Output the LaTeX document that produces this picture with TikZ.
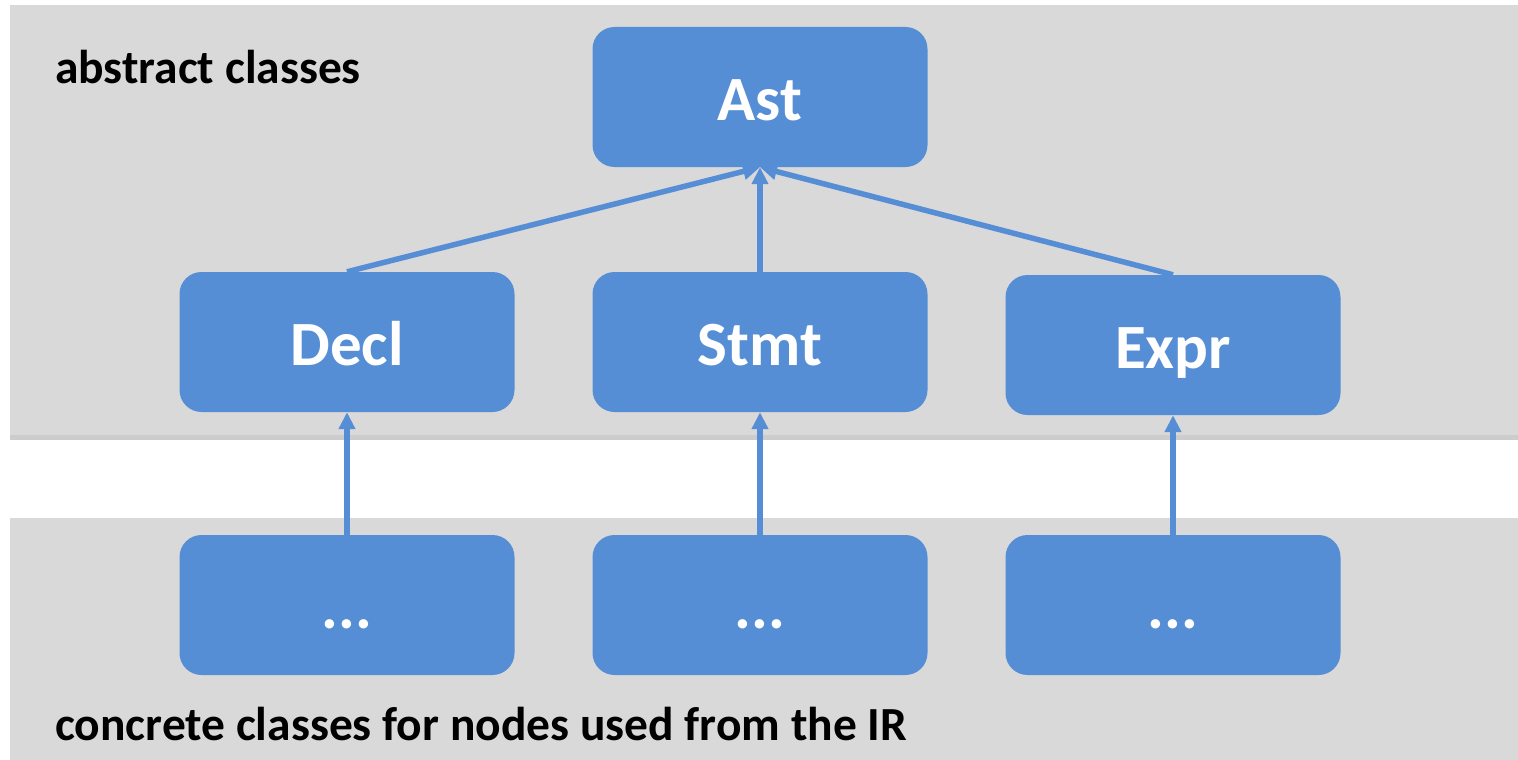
\documentclass[tikz,border=0pt]{standalone}
\usepackage{fontspec}
\setmainfont{Carlito}
\usetikzlibrary{arrows.meta,shadows}
\definecolor{boxblue}{RGB}{85,142,213}
\definecolor{panelgray}{RGB}{217,217,217}
\tikzset{
  cls/.style={fill=boxblue, rounded corners=22pt, minimum width=335pt, minimum height=140pt,
    text=white, font=\fontsize{63}{70}\selectfont\bfseries, inner sep=0pt,
    text height=46pt, text depth=0pt},
  inherit/.style={draw=boxblue, line width=5.5pt, -{Triangle[length=17pt,width=16pt]}},
  panel/.style={fill=panelgray, drop shadow={shadow xshift=0pt, shadow yshift=-5pt, opacity=0.4}},
  caption/.style={anchor=base west, inner sep=0pt, font=\fontsize{47.5}{54}\selectfont\bfseries}
}
\begin{document}
\begin{tikzpicture}[x=1pt,y=-1pt]
  \useasboundingbox (0,0) rectangle (1518,760);
  % panels
  \path[panel] (10,5) rectangle (1530,435);
  \path[fill=panelgray] (10,518) rectangle (1530,770);
  \node[caption] (abs) at (55,83) {abstract classes};
  \node[caption] (conc) at (55,740) {concrete classes for nodes used from the IR};
  % class boxes
  \path
    (760,97) node[cls] (ast){Ast}
    (347,342) node[cls] (decl){Decl}
    (760,342) node[cls] (stmt){Stmt}
    (1173,345) node[cls] (expr){Expr}
    (347,605) node[cls] (declsub){...}
    (760,605) node[cls] (stmtsub){...}
    (1173,605) node[cls] (exprsub){...};
  % inheritance
  \begin{scope}[inherit]
    \draw (decl.north) to (ast.south);
    \draw (stmt.north) to (ast.south);
    \draw (expr.north) to (ast.south);
    \draw (declsub.north) to (decl.south);
    \draw (stmtsub.north) to (stmt.south);
    \draw (exprsub.north) to (expr.south);
  \end{scope}
\end{tikzpicture}
\end{document}
